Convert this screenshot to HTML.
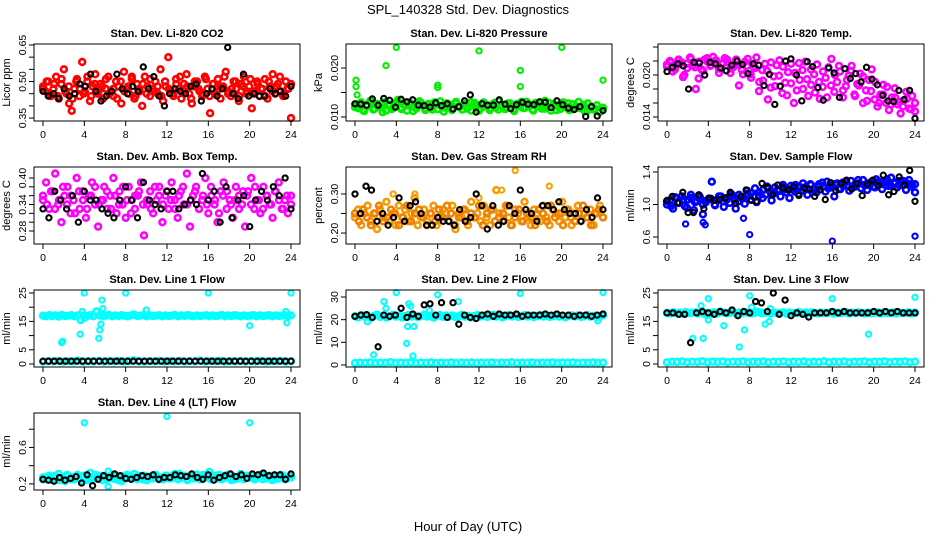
<!DOCTYPE html>
<html><head><meta charset="utf-8">
<style>
html,body{margin:0;padding:0;background:#fff;}
svg{display:block;font-family:"Liberation Sans",Arial,sans-serif;}
</style></head>
<body>
<svg id="chart" width="936" height="540" viewBox="0 0 936 540" xmlns="http://www.w3.org/2000/svg">
<rect x="0" y="0" width="936" height="540" fill="#fff"/>
<text x="468" y="14" font-size="13" text-anchor="middle">SPL_140328  Std. Dev. Diagnostics</text>
<text x="468" y="531" font-size="13" text-anchor="middle">Hour of Day (UTC)</text>
<g id="plots"></g>
</svg>
<script>
// ---------- data ----------
const xTicks = [0,4,8,12,16,20,24];

const co2Red = [0.48,0.46,0.50,0.44,0.47,0.52,0.43,0.49,0.55,0.45,0.41,0.38,0.47,0.51,0.44,0.58,0.46,0.50,0.42,0.48,0.53,0.45,0.49,0.43,0.47,0.52,0.46,0.44,0.50,0.48,0.41,0.54,0.47,0.45,0.51,0.43,0.49,0.46,0.40,0.52,0.48,0.44,0.47,0.50,0.45,0.55,0.42,0.48,0.60,0.46,0.44,0.51,0.47,0.43,0.49,0.53,0.45,0.41,0.48,0.50,0.46,0.44,0.52,0.47,0.37,0.49,0.45,0.51,0.43,0.48,0.54,0.46,0.44,0.50,0.47,0.42,0.49,0.52,0.45,0.48,0.39,0.46,0.50,0.44,0.47,0.51,0.43,0.48,0.53,0.45,0.49,0.46,0.44,0.50,0.47,0.35];
const co2Red2 = [0.47,0.50,0.45,0.49,0.44,0.51,0.46,0.48,0.43,0.50,0.47,0.45,0.52,0.44,0.49,0.46,0.48,0.51,0.45,0.47,0.43,0.50,0.46,0.48,0.52,0.44,0.47,0.49,0.45,0.51,0.46,0.48,0.44,0.50,0.47,0.45,0.49,0.52,0.46,0.48,0.43,0.50,0.47,0.45,0.51,0.44,0.49,0.46,0.48,0.52,0.45,0.47,0.50,0.44,0.48,0.46,0.51,0.45,0.49,0.47,0.44,0.50,0.46,0.48,0.52,0.45,0.47,0.49];
const co2Black = [0.46,0.44,0.45,0.43,0.47,0.44,0.45,0.49,0.48,0.53,0.46,0.42,0.44,0.46,0.53,0.47,0.45,0.48,0.46,0.56,0.47,0.52,0.44,0.40,0.45,0.47,0.46,0.45,0.48,0.49,0.42,0.45,0.47,0.44,0.47,0.64,0.45,0.43,0.53,0.44,0.45,0.44,0.44,0.47,0.45,0.46,0.44,0.48];

const presGreen = [0.0125,0.0118,0.0130,0.0112,0.0122,0.0133,0.0115,0.0127,0.0120,0.0110,0.0131,0.0124,0.0116,0.0128,0.0135,0.0119,0.0126,0.0113,0.0129,0.0121,0.0117,0.0132,0.0124,0.0114,0.0127,0.0120,0.0130,0.0116,0.0123,0.0111,0.0128,0.0125,0.0118,0.0131,0.0122,0.0115,0.0127,0.0120,0.0113,0.0129,0.0124,0.0117,0.0130,0.0121,0.0114,0.0126,0.0119,0.0132,0.0123,0.0116,0.0128,0.0121,0.0112,0.0127,0.0125,0.0118,0.0131,0.0122,0.0115,0.0129,0.0124,0.0117,0.0133,0.0120,0.0113,0.0127,0.0123,0.0116,0.0130,0.0121,0.0114,0.0126,0.0119,0.0131,0.0122,0.0112,0.0128,0.0120,0.0115,0.0124,0.0110,0.0118];
const presGreen2 = [0.0120,0.0127,0.0114,0.0124,0.0131,0.0117,0.0122,0.0128,0.0113,0.0125,0.0119,0.0130,0.0116,0.0123,0.0127,0.0112,0.0121,0.0129,0.0118,0.0124,0.0115,0.0126,0.0132,0.0119,0.0122,0.0114,0.0128,0.0120,0.0125,0.0117,0.0130,0.0121,0.0113,0.0127,0.0123,0.0118,0.0129,0.0115,0.0124,0.0120,0.0128,0.0116,0.0122,0.0131,0.0119,0.0125,0.0113,0.0127,0.0121,0.0117,0.0129,0.0123,0.0114,0.0126,0.0120,0.0128,0.0116,0.0122,0.0118,0.0125,0.0113,0.0121,0.0117,0.0112,0.0119];
const presOutH = [0.1,0.1,0.2,3.0,4.0,8.0,8.0,12.0,16.0,16.0,20.0,24.0];
const presOutV = [0.0175,0.0162,0.0145,0.0205,0.0242,0.0165,0.0160,0.0235,0.0195,0.0162,0.0242,0.0175];
const presBlack = [0.0127,0.0126,0.0124,0.0137,0.0124,0.0138,0.0134,0.0120,0.0136,0.0131,0.0135,0.0124,0.0123,0.0120,0.0129,0.0123,0.0127,0.0116,0.0121,0.0133,0.0145,0.0110,0.0127,0.0124,0.0124,0.0135,0.0126,0.0117,0.0125,0.0130,0.0126,0.0125,0.0131,0.0130,0.0119,0.0133,0.0125,0.0118,0.0115,0.0121,0.0101,0.0121,0.0102,0.0113];

const tempMag = [0.0215,0.0220,0.0205,0.0212,0.0222,0.0218,0.0200,0.0210,0.0225,0.0214,0.0180,0.0195,0.0208,0.0222,0.0219,0.0213,0.0226,0.0221,0.0209,0.0216,0.0224,0.0218,0.0203,0.0211,0.0222,0.0215,0.0207,0.0219,0.0223,0.0201,0.0212,0.0225,0.0190,0.0207,0.0216,0.0165,0.0182,0.0198,0.0214,0.0221,0.0174,0.0189,0.0204,0.0216,0.0160,0.0178,0.0193,0.0207,0.0219,0.0170,0.0186,0.0201,0.0215,0.0166,0.0183,0.0196,0.0211,0.0223,0.0176,0.0190,0.0205,0.0168,0.0184,0.0199,0.0213,0.0172,0.0187,0.0202,0.0160,0.0178,0.0193,0.0208,0.0165,0.0155,0.0172,0.0186,0.0160,0.0150,0.0168,0.0181,0.0158,0.0145,0.0163,0.0176,0.0152,0.0170,0.0148];
const tempMag2 = [0.0212,0.0218,0.0208,0.0221,0.0197,0.0216,0.0223,0.0211,0.0219,0.0206,0.0224,0.0214,0.0220,0.0203,0.0217,0.0222,0.0209,0.0215,0.0185,0.0201,0.0213,0.0196,0.0210,0.0177,0.0192,0.0206,0.0218,0.0184,0.0199,0.0212,0.0171,0.0188,0.0203,0.0217,0.0180,0.0194,0.0208,0.0175,0.0190,0.0205,0.0168,0.0185,0.0200,0.0213,0.0178,0.0193,0.0206,0.0170,0.0185,0.0198,0.0163,0.0177,0.0190,0.0160,0.0172,0.0183,0.0158,0.0168,0.0162,0.0155,0.0166,0.0151,0.0160];
const tempBlack = [0.0205,0.0211,0.0216,0.0213,0.0180,0.0218,0.0217,0.0200,0.0218,0.0216,0.0210,0.0206,0.0214,0.0220,0.0215,0.0202,0.0216,0.0214,0.0185,0.0201,0.0158,0.0184,0.0220,0.0223,0.0200,0.0163,0.0219,0.0212,0.0182,0.0164,0.0210,0.0203,0.0168,0.0209,0.0195,0.0202,0.0190,0.0211,0.0194,0.0186,0.0171,0.0163,0.0162,0.0178,0.0165,0.0178,0.0138];

const ambMag = [0.35,0.39,0.33,0.37,0.41,0.34,0.30,0.36,0.38,0.32,0.35,0.40,0.33,0.37,0.31,0.36,0.39,0.34,0.29,0.35,0.38,0.33,0.36,0.40,0.32,0.37,0.34,0.31,0.38,0.35,0.33,0.36,0.39,0.27,0.34,0.37,0.32,0.35,0.38,0.30,0.36,0.33,0.39,0.35,0.31,0.37,0.34,0.41,0.29,0.36,0.38,0.33,0.35,0.40,0.32,0.36,0.34,0.30,0.37,0.39,0.33,0.35,0.31,0.38,0.36,0.34,0.29,0.37,0.40,0.33,0.35,0.32,0.38,0.36,0.34,0.31,0.37,0.39,0.33,0.35,0.32,0.36];
const ambMag2 = [0.36,0.34,0.37,0.33,0.35,0.38,0.34,0.36,0.32,0.37,0.35,0.33,0.36,0.38,0.34,0.35,0.37,0.33,0.36,0.34,0.38,0.35,0.32,0.36,0.37,0.34,0.35,0.33,0.38,0.36,0.34,0.37,0.35,0.33,0.36,0.38,0.34,0.35,0.37,0.33,0.36,0.34,0.38,0.35,0.32,0.36,0.37,0.34,0.35,0.33,0.37,0.36,0.34,0.38,0.35,0.33,0.36,0.34,0.37,0.35,0.33,0.36,0.34];
const ambBlack = [0.33,0.31,0.37,0.35,0.33,0.36,0.30,0.37,0.35,0.35,0.33,0.32,0.31,0.35,0.38,0.35,0.31,0.39,0.35,0.34,0.33,0.37,0.37,0.33,0.34,0.35,0.34,0.41,0.35,0.37,0.30,0.38,0.31,0.35,0.36,0.29,0.35,0.37,0.35,0.38,0.36,0.40,0.33];

const rhOrange = [0.24,0.26,0.22,0.25,0.27,0.23,0.25,0.21,0.26,0.24,0.28,0.23,0.25,0.22,0.27,0.24,0.26,0.23,0.25,0.29,0.22,0.24,0.26,0.23,0.25,0.27,0.22,0.24,0.26,0.25,0.23,0.27,0.21,0.25,0.24,0.26,0.22,0.28,0.24,0.25,0.23,0.27,0.24,0.22,0.26,0.31,0.25,0.23,0.27,0.24,0.22,0.26,0.25,0.23,0.28,0.24,0.22,0.26,0.25,0.23,0.27,0.24,0.22,0.26,0.25,0.23,0.28,0.24,0.26,0.22,0.25,0.27,0.23,0.25,0.24,0.26,0.22,0.25,0.27,0.24];
const rhOrange2 = [0.25,0.23,0.26,0.24,0.22,0.25,0.27,0.23,0.24,0.26,0.25,0.22,0.24,0.27,0.23,0.25,0.26,0.24,0.22,0.25,0.23,0.26,0.24,0.27,0.25,0.22,0.24,0.26,0.23,0.25,0.24,0.27,0.22,0.25,0.26,0.23,0.24,0.25,0.27,0.22,0.24,0.26,0.23,0.25,0.24,0.22,0.26,0.25,0.23,0.27,0.24,0.25,0.22,0.26,0.24,0.23,0.25,0.27,0.24,0.22,0.25,0.26,0.24];
const rhOutH = [15.5,18.8,3.7,5.8,12.0,14.2];
const rhOutV = [0.36,0.32,0.30,0.30,0.29,0.31];
const rhBlack = [0.30,0.25,0.32,0.31,0.23,0.25,0.22,0.24,0.29,0.23,0.27,0.28,0.25,0.22,0.22,0.24,0.23,0.23,0.22,0.26,0.23,0.24,0.30,0.27,0.21,0.27,0.22,0.23,0.27,0.25,0.31,0.26,0.25,0.23,0.27,0.27,0.26,0.28,0.26,0.25,0.25,0.23,0.26,0.24,0.29,0.26];

const flowBlue = [1.00,1.05,0.95,1.08,1.02,1.10,0.98,1.06,1.12,0.93,1.04,1.09,0.88,1.03,1.07,1.28,1.00,1.05,1.10,0.97,1.06,1.02,1.11,0.95,1.04,1.08,1.01,1.13,1.06,1.10,1.03,1.15,1.08,1.12,1.20,1.05,1.14,1.18,1.10,1.22,1.15,1.08,1.19,1.24,1.13,1.17,1.21,1.12,1.25,1.18,1.15,1.22,1.27,1.16,1.20,1.24,1.10,1.26,1.19,1.23,1.28,1.17,1.21,1.25,1.30,1.20,1.24,1.18,1.27,1.22,1.31,1.25,1.19,1.28,1.23,1.33,1.26,1.21,1.29,1.24,1.18,1.30,1.25,1.15];
const flowBlue2 = [1.04,0.98,1.09,1.02,1.06,0.96,1.08,1.03,1.11,1.00,1.05,1.07,0.99,1.10,1.04,1.08,1.13,1.06,1.12,1.09,1.17,1.14,1.20,1.11,1.18,1.22,1.15,1.21,1.17,1.24,1.19,1.23,1.16,1.22,1.26,1.20,1.24,1.18,1.25,1.22,1.28,1.21,1.25,1.19,1.27,1.23,1.29,1.22,1.26,1.30,1.24,1.27,1.21,1.28,1.25,1.31,1.23,1.27,1.24,1.29,1.26,1.22,1.25];
const flowOutH = [8.0,16.0,24.0,1.8,3.5,3.7,7.4];
const flowOutV = [0.63,0.55,0.61,0.76,0.78,0.75,0.83];
const flowBlack = [1.05,1.10,1.02,1.15,0.90,0.90,1.12,0.95,1.08,1.05,1.06,1.08,1.15,1.02,1.10,1.18,1.05,1.04,1.26,1.21,1.12,1.24,1.20,1.18,1.22,1.11,1.20,1.19,1.10,1.18,1.06,1.27,1.17,1.26,1.30,1.19,1.26,1.11,1.25,1.30,1.23,1.36,1.12,1.16,1.34,1.24,1.42,1.04];

const l1CyanTop = [17.0,16.8,17.2,16.9,17.1,16.7,17.3,16.9,17.0,17.2,16.8,17.1,15.5,17.0,16.9,17.2,16.8,18.5,17.1,16.9,17.0,17.3,16.8,17.1,16.9,17.2,17.0,16.8,17.1,17.4,16.9,17.0,17.2,16.8,17.1,16.9,17.0,17.2,16.8,17.1,16.9,17.0,17.3,16.8,17.1,16.9,17.2,17.0,16.8,17.1,16.9,17.0,17.2,16.8,17.1,16.9,17.0,17.3,16.8,17.1,16.9,17.2,17.0,16.8,17.1,16.9,17.0,17.2,16.8,17.1,16.9,17.0,17.2,16.8,17.1,16.9,17.0,17.2,16.8,17.1];
const l1CyanBot = [0.8,1.0,0.9,1.1,0.8,1.0,0.9,1.2,0.8,1.0,0.9,1.1,0.8,1.0,0.9,1.1,0.8,1.0,1.3,0.9,0.8,1.0,0.9,1.1,0.8,1.0,0.9,1.1,0.8,1.0,0.9,1.2,0.8,1.0,0.9,1.1,0.8,1.0,0.9,1.1,0.8,1.0,0.9,1.1,0.8,1.0,0.9,1.1,0.8,1.0];
const l1OutH = [4.0,8.0,16.0,24.0,1.8,1.9,3.6,5.4,5.5,5.6,5.7,5.8,10.0,20.0,23.6,23.5,3.8,4.0];
const l1OutV = [25,25,25,25,7.5,8,10.5,9,12,14,22.5,19.5,19,13.5,14.5,18.5,18.5,16];
const l1Black = [1.0,1.0,1.0,1.0,1.0,1.0,1.0,1.0,1.0,1.0,1.0,1.0,1.0,1.0,1.0,1.0,1.0,1.0,1.0,1.0,1.0,1.0,1.0,1.0,1.0,1.0,1.0,1.0,1.0,1.0,1.0,1.0,1.0,1.0,1.0,1.0,1.0,1.0,1.0,1.0,1.0,1.0,1.0,1.0,1.0];

const l2CyanTop = [21.5,21.0,22.0,21.3,21.8,20.8,21.6,22.2,21.2,21.7,20.9,21.5,22.1,21.3,21.8,21.0,21.6,22.0,21.4,21.9,21.1,21.5,22.2,21.3,21.7,20.9,21.6,22.0,21.2,21.8,21.4,21.9,21.1,21.5,22.1,21.3,21.7,21.0,21.6,22.0,21.4,21.8,21.2,21.5,22.1,21.3,21.7,21.0,21.6,22.0,21.4,21.8,21.2,21.5,22.0,21.3,21.7,21.1,21.6,22.0,21.4,21.8,21.2,21.5,22.1,21.3,21.7,21.0,21.6,21.9,21.4,21.8,21.2,21.5,22.0,21.3,21.7,21.1,21.6,21.9];
const l2CyanBot = [0.8,1.0,0.9,1.1,0.8,1.0,0.9,1.2,0.8,1.0,0.9,1.1,0.8,1.0,0.9,1.1,0.8,1.0,0.9,1.1,0.8,1.0,0.9,1.1,0.8,1.0,0.9,1.1,0.8,1.0,0.9,1.2,0.8,1.0,0.9,1.1,0.8,1.0,0.9,1.1,0.8,1.0,0.9,1.1,0.8,1.0,0.9,1.1,0.8,1.0];
const l2OutH = [4.0,2.8,1.8,5.0,5.1,5.2,5.4,5.6,5.7,8.0,10.0,16.0,24.0,23.5,1.2,3.0,7.2];
const l2OutV = [32,28,4.5,9.5,17,27,26,4,17,31,28,31.5,32,19.5,19,25,24];
const l2Black = [21.5,22.0,22.2,21.0,8.0,22.0,21.5,22.0,25.0,21.0,22.5,21.5,26.5,27.0,22.0,27.5,21.0,27.5,18.0,22.0,21.0,20.5,22.0,22.5,21.5,22.5,22.0,22.0,22.5,21.5,22.0,22.0,22.0,22.5,22.0,22.5,22.0,22.0,21.5,22.0,22.0,21.5,22.0,22.5];

const l3CyanTop = [18.0,17.8,18.2,17.9,18.1,17.7,18.3,17.9,18.0,18.2,17.8,18.1,17.6,18.0,17.9,18.2,17.8,18.4,18.1,17.9,18.0,18.3,17.8,18.1,17.9,18.2,18.0,17.8,18.1,18.4,17.9,18.0,18.2,17.8,18.1,17.9,18.0,18.2,17.8,18.1,17.9,18.0,18.3,17.8,18.1,17.9,18.2,18.0,17.8,18.1,17.9,18.0,18.2,17.8,18.1,17.9,18.0,18.3,17.8,18.1,17.9,18.2,18.0,17.8,18.1,17.9,18.0,18.2,17.8,18.1,17.9,18.0,18.2,17.8,18.1,17.9,18.0,18.2,17.8,18.1];
const l3CyanBot = [0.6,0.8,0.7,0.9,0.6,0.8,0.7,1.0,0.6,0.8,0.7,0.9,0.6,0.8,0.7,0.9,0.6,0.8,0.7,0.9,0.6,0.8,0.7,0.9,0.6,0.8,0.7,0.9,0.6,0.8,0.7,1.0,0.6,0.8,0.7,0.9,0.6,0.8,0.7,0.9,0.6,0.8,0.7,0.9,0.6,0.8,0.7,0.9,0.6,0.8];
const l3OutH = [4.0,2.5,3.3,3.5,4.0,5.5,7.0,7.5,8.0,8.2,9.5,9.9,10.0,16.0,19.5,24.0];
const l3OutV = [23,9,20.5,9,15.5,13.5,6,12,24,20,14,15,19.5,23,10.5,23.5];
const l3Black = [18.0,18.0,17.5,17.5,7.5,18.0,18.5,18.0,17.5,18.5,18.0,19.0,17.0,18.5,18.0,22.0,21.5,18.5,25.0,17.5,22.5,17.0,18.0,17.5,16.5,18.0,18.0,18.0,18.5,18.0,18.5,18.0,18.0,18.0,18.0,18.5,18.0,18.5,18.0,18.5,18.0,18.0,18.0];

const l4Cyan = [0.27,0.25,0.29,0.24,0.28,0.31,0.26,0.23,0.29,0.27,0.25,0.30,0.24,0.28,0.26,0.32,0.25,0.27,0.29,0.24,0.28,0.26,0.30,0.25,0.27,0.23,0.29,0.26,0.28,0.31,0.25,0.27,0.29,0.24,0.28,0.26,0.30,0.25,0.27,0.29,0.26,0.28,0.31,0.25,0.27,0.29,0.24,0.28,0.26,0.30,0.25,0.27,0.29,0.33,0.28,0.26,0.30,0.25,0.27,0.29,0.24,0.28,0.26,0.31,0.25,0.27,0.29,0.26,0.28,0.30,0.25,0.27,0.29,0.24,0.28,0.26,0.30,0.25,0.27,0.28];
const l4Cyan2 = [0.25,0.28,0.26,0.29,0.24,0.27,0.30,0.25,0.28,0.26,0.29,0.24,0.27,0.30,0.26,0.28,0.25,0.29,0.27,0.24,0.28,0.30,0.26,0.27,0.29,0.25,0.28,0.26,0.30,0.27,0.25,0.29,0.26,0.28,0.31,0.27,0.25,0.29,0.26,0.28,0.30,0.27,0.25,0.29,0.26,0.28,0.30,0.27,0.25,0.28,0.26,0.29,0.27,0.25,0.28,0.30,0.26,0.28,0.25,0.27,0.29,0.26,0.27];
const l4OutH = [4.0,12.0,20.0,6.3,6.3];
const l4OutV = [0.87,0.94,0.87,0.34,0.17];
const l4Black = [0.25,0.24,0.23,0.27,0.24,0.26,0.28,0.21,0.30,0.18,0.25,0.29,0.27,0.31,0.29,0.26,0.25,0.27,0.29,0.28,0.30,0.25,0.27,0.27,0.30,0.29,0.28,0.31,0.27,0.25,0.30,0.24,0.27,0.29,0.31,0.28,0.30,0.26,0.31,0.30,0.32,0.29,0.30,0.30,0.25,0.31];

// ---------- panel definitions ----------
const panels = [
 {name:'co2',col:0,row:0,title:'Stan. Dev. Li-820 CO2',ylab:'Licor ppm',ylim:[0.338,0.654],ticks:[0.35,0.40,0.45,0.50,0.55,0.60,0.65],labels:['0.35','','','0.50','','','0.65'],
  series:[{ys:co2Red,c:'#ff0000',d:1},{ys:co2Red2,c:'#ff0000',d:1},{ys:co2Black,c:'#000000'}]},
 {name:'pressure',col:1,row:0,title:'Stan. Dev. Li-820 Pressure',ylab:'kPa',ylim:[0.00918,0.0249],ticks:[0.010,0.015,0.020],labels:['0.010','','0.020'],
  series:[{ys:presGreen,c:'#00ee00',d:1},{ys:presGreen2,c:'#00ee00',d:1},{hs:presOutH,ys:presOutV,c:'#00ee00'},{ys:presBlack,c:'#000000'}]},
 {name:'li820-temp',col:2,row:0,title:'Stan. Dev. Li-820 Temp.',ylab:'degrees C',ylim:[0.01343,0.02443],ticks:[0.014,0.016,0.018,0.020,0.022,0.024],labels:['0.014','','','0.020','',''],
  series:[{ys:tempMag,c:'#ff00ff',d:1},{ys:tempMag2,c:'#ff00ff',d:1},{ys:tempBlack,c:'#000000'}]},
 {name:'amb-box-temp',col:0,row:1,title:'Stan. Dev. Amb. Box Temp.',ylab:'degrees C',ylim:[0.2506,0.4249],ticks:[0.28,0.30,0.32,0.34,0.36,0.38,0.40],labels:['0.28','','','0.34','','','0.40'],
  series:[{ys:ambMag,c:'#ff00ff',d:1},{ys:ambMag2,c:'#ff00ff',d:1},{ys:ambBlack,c:'#000000'}]},
 {name:'gas-stream-rh',col:1,row:1,title:'Stan. Dev. Gas Stream RH',ylab:'percent',ylim:[0.172,0.369],ticks:[0.20,0.25,0.30],labels:['0.20','','0.30'],
  series:[{ys:rhOrange,c:'#f59a00',d:1},{ys:rhOrange2,c:'#f08000',d:1},{hs:rhOutH,ys:rhOutV,c:'#f5a300'},{ys:rhBlack,c:'#000000'}]},
 {name:'sample-flow',col:2,row:1,title:'Stan. Dev. Sample Flow',ylab:'ml/min',ylim:[0.514,1.4615],ticks:[0.6,1.0,1.4],labels:['0.6','1.0','1.4'],
  series:[{ys:flowBlue,c:'#0000ff',d:1},{ys:flowBlue2,c:'#0000ff',d:1},{hs:flowOutH,ys:flowOutV,c:'#0000ff'},{ys:flowBlack,c:'#000000'}]},
 {name:'line1-flow',col:0,row:2,title:'Stan. Dev. Line 1 Flow',ylab:'ml/min',ylim:[-1.06,26.06],ticks:[0,5,10,15,20,25],labels:['0','5','','15','','25'],
  series:[{ys:l1CyanTop,c:'#00ffff',d:1},{ys:l1CyanBot,c:'#00ffff',d:1},{hs:l1OutH,ys:l1OutV,c:'#00ffff'},{ys:l1Black,c:'#000000'}]},
 {name:'line2-flow',col:1,row:2,title:'Stan. Dev. Line 2 Flow',ylab:'ml/min',ylim:[-0.9,33.1],ticks:[0,10,20,30],labels:['0','10','20','30'],
  series:[{ys:l2CyanTop,c:'#00ffff',d:1},{ys:l2CyanBot,c:'#00ffff',d:1},{hs:l2OutH,ys:l2OutV,c:'#00ffff'},{ys:l2Black,c:'#000000'}]},
 {name:'line3-flow',col:2,row:2,title:'Stan. Dev. Line 3 Flow',ylab:'ml/min',ylim:[-1.06,26.06],ticks:[0,5,10,15,20,25],labels:['0','5','','15','','25'],
  series:[{ys:l3CyanTop,c:'#00ffff',d:1},{ys:l3CyanBot,c:'#00ffff',d:1},{hs:l3OutH,ys:l3OutV,c:'#00ffff'},{ys:l3Black,c:'#000000'}]},
 {name:'line4-flow',col:0,row:3,title:'Stan. Dev. Line 4 (LT) Flow',ylab:'ml/min',ylim:[0.133,0.978],ticks:[0.2,0.4,0.6,0.8],labels:['0.2','','0.6',''],
  series:[{ys:l4Cyan,c:'#00ffff',d:1},{ys:l4Cyan2,c:'#00ffff',d:1},{hs:l4OutH,ys:l4OutV,c:'#00ffff'},{ys:l4Black,c:'#000000'}]}
];

// ---------- drawing ----------
const NS = 'http://www.w3.org/2000/svg';
const root = document.getElementById('plots');
function mk(tag, attrs, parent){
  const e = document.createElementNS(NS, tag);
  for (const k in attrs) e.setAttribute(k, attrs[k]);
  parent.appendChild(e);
  return e;
}
panels.forEach(p => {
  const L = 34 + 312*p.col, R = L + 266;
  const T = 44 + 123*p.row, B = T + 77;
  const x0 = L + 9, xw = 248;
  const xs = h => x0 + h/24*xw;
  const ys = v => B - (v - p.ylim[0])/(p.ylim[1]-p.ylim[0])*(B-T);
  const g = mk('g', {}, root);
  
  

  const title = mk('text', {x:(L+R)/2, y:T-7, 'font-size':11, 'font-weight':'bold', 'text-anchor':'middle'}, g);
  title.textContent = p.title;
  
  

  const yl = mk('text', {x:0, y:0, 'font-size':11, 'text-anchor':'middle', transform:`translate(${L-24},${(T+B)/2}) rotate(-90)`}, g);
  yl.textContent = p.ylab;
  
  

  const pts = mk('g', {fill:'none'}, g);
  
  
  p.series.forEach(s => {
    const n = s.ys.length;
    const dense = !!s.d;
    s.ys.forEach((v, i) => {
      const h = s.hs ? s.hs[i] : (n > 1 ? i*24/(n-1) : 0);
      const c = mk('circle', {cx:xs(h).toFixed(1), cy:ys(v).toFixed(1), r: dense ? 2.9 : 2.6, stroke:s.c, 'stroke-width': dense ? 2.6 : 2.1}, pts);
      
      
    });
  });

  const box = mk('rect', {x:L, y:T, width:R-L, height:B-T, fill:'none', stroke:'#000', 'stroke-width':1}, g);
  
  

  const xa = mk('g', {}, g);
  
  
  xTicks.forEach(t => {
    mk('line', {x1:xs(t), x2:xs(t), y1:B, y2:B+5, stroke:'#000'}, xa);
    const tl = mk('text', {x:xs(t), y:B+17, 'font-size':10.5, 'text-anchor':'middle'}, xa);
    tl.textContent = t;
    
    
  });
  const ya = mk('g', {}, g);
  
  
  p.ticks.forEach((t, i) => {
    mk('line', {x1:L-5, x2:L, y1:ys(t), y2:ys(t), stroke:'#000'}, ya);
    if (p.labels[i]) {
      const tl = mk('text', {x:0, y:0, 'font-size':10.5, 'text-anchor':'middle', transform:`translate(${L-8},${ys(t)}) rotate(-90)`}, ya);
      tl.textContent = p.labels[i];
      
      
    }
  });
});
</script>
</body></html>
